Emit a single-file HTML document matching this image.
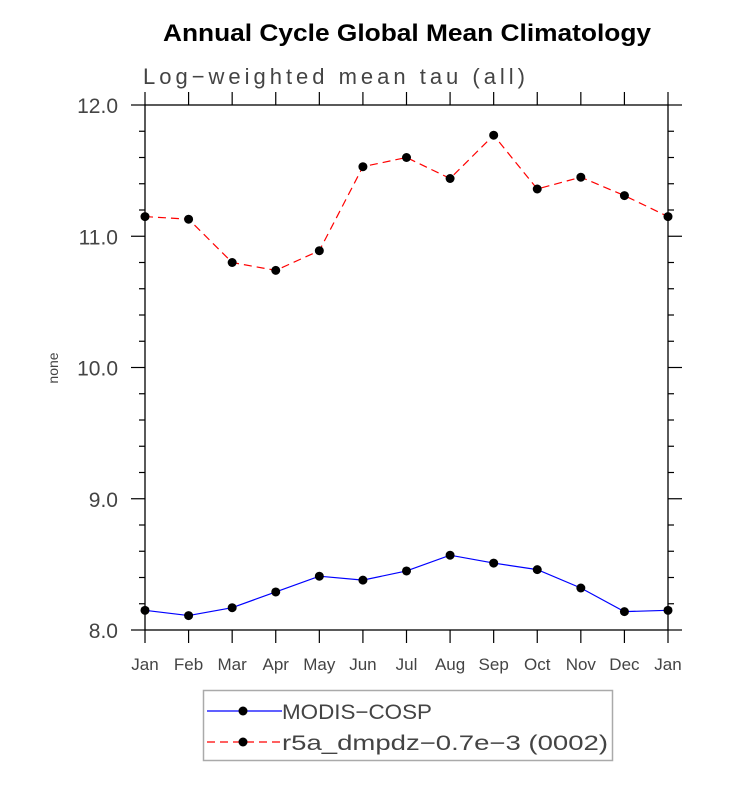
<!DOCTYPE html>
<html><head><meta charset="utf-8"><style>
body{margin:0;background:#fff;}
svg text{font-family:"Liberation Sans",sans-serif;}
</style></head><body>
<svg id="chart" width="733" height="782" xmlns="http://www.w3.org/2000/svg">
<text x="163" y="41" font-size="24" font-weight="bold" fill="#000" textLength="488" lengthAdjust="spacingAndGlyphs">Annual Cycle Global Mean Climatology</text>
<text x="143" y="84" font-size="22" fill="#444" textLength="382">Log−weighted mean tau (all)</text>
<text transform="translate(58,368) rotate(-90)" text-anchor="middle" font-size="14" fill="#444">none</text>
<g id="axes"></g>
<g id="series"></g>
<g>
<rect x="203.5" y="690.5" width="409" height="70" fill="#fff" stroke="#aaa" stroke-width="1.5"/>
<line x1="207" y1="711" x2="282" y2="711" stroke="#00f" stroke-width="1.2"/>
<circle cx="243" cy="711" r="4.5" fill="#000"/>
<text x="282" y="719" font-size="21" fill="#444" textLength="150" lengthAdjust="spacingAndGlyphs">MODIS−COSP</text>
<line x1="207" y1="742" x2="282" y2="742" stroke="#f00" stroke-width="1.2" stroke-dasharray="8,5"/>
<circle cx="243" cy="742" r="4.5" fill="#000"/>
<text x="282" y="750" font-size="21" fill="#444" textLength="326" lengthAdjust="spacingAndGlyphs">r5a_dmpdz−0.7e−3 (0002)</text>
</g>
</svg>
<script>
const months=["Jan","Feb","Mar","Apr","May","Jun","Jul","Aug","Sep","Oct","Nov","Dec","Jan"];
const modis=[8.15,8.11,8.17,8.29,8.41,8.38,8.45,8.57,8.51,8.46,8.32,8.14,8.15];
const r5a=[11.15,11.13,10.80,10.74,10.89,11.53,11.60,11.44,11.77,11.36,11.45,11.31,11.15];
const yTicks=["8.0","9.0","10.0","11.0","12.0"];
const L=145,R=668,T=105,B=630,ymin=8,ymax=12;
const xs=i=>L+i*(R-L)/(months.length-1);
const ys=v=>B-(v-ymin)/(ymax-ymin)*(B-T);
const NS="http://www.w3.org/2000/svg";
function mk(t,a,p){const e=document.createElementNS(NS,t);for(const k in a)e.setAttribute(k,a[k]);p.appendChild(e);return e;}
const ax=document.getElementById('axes');
const fr=mk('rect',{x:L,y:T,width:R-L,height:B-T,fill:'none',stroke:'#000','stroke-width':1.3},ax);


months.forEach((m,i)=>{const x=xs(i);
mk('line',{x1:x,y1:B,x2:x,y2:B+13,stroke:'#000','stroke-width':1.2},ax);
mk('line',{x1:x,y1:T,x2:x,y2:T-13,stroke:'#000','stroke-width':1.2},ax);
const t=mk('text',{x:x,y:B+40,'text-anchor':'middle','font-size':17,fill:'#444'},ax);t.textContent=m;

});
for(let v=ymin;v<=ymax+1e-9;v+=0.2){const y=ys(v);const maj=Math.abs(v-Math.round(v))<1e-6;const l=maj?14:6;
mk('line',{x1:L,y1:y,x2:L-l,y2:y,stroke:'#000','stroke-width':1.2},ax);
mk('line',{x1:R,y1:y,x2:R+l,y2:y,stroke:'#000','stroke-width':1.2},ax);}
yTicks.forEach(s=>{const t=mk('text',{x:L-27,y:ys(parseFloat(s))+8,'text-anchor':'end','font-size':21,fill:'#444'},ax);t.textContent=s;

});
const sg=document.getElementById('series');
function series(vals,col,dash,name){
const pl=mk('polyline',{points:vals.map((v,i)=>xs(i)+','+ys(v)).join(' '),fill:'none',stroke:col,'stroke-width':1.2,'stroke-dasharray':dash},sg);


vals.forEach((v,i)=>{const c=mk('circle',{cx:xs(i),cy:ys(v),r:4.5,fill:'#000'},sg);

});}
series(r5a,'#f00','8,5','r5a');
series(modis,'#00f','none','modis');
</script>
</body></html>
